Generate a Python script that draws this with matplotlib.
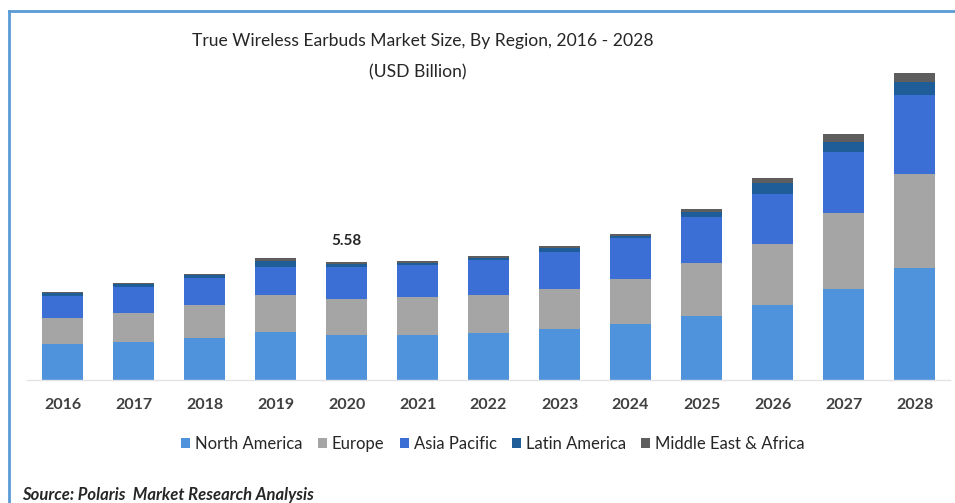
import numpy as np
import matplotlib

matplotlib.use("Agg")
import matplotlib.pyplot as plt
from matplotlib.patches import Patch
from matplotlib.lines import Line2D

# ── data (USD billion) ───────────────────────────────────────────────────────
years = ["2016", "2017", "2018", "2019", "2020", "2021", "2022",
         "2023", "2024", "2025", "2026", "2027", "2028"]
north_america = [1.69, 1.82, 1.98, 2.29, 2.13, 2.13, 2.24, 2.40, 2.65, 3.03, 3.55, 4.30, 5.29]
europe = [1.26, 1.37, 1.58, 1.74, 1.69, 1.82, 1.79, 1.90, 2.13, 2.53, 2.92, 3.63, 4.47]
asia_pacific = [1.03, 1.23, 1.27, 1.34, 1.55, 1.50, 1.64, 1.78, 1.93, 2.18, 2.37, 2.89, 3.74]
latin_america = [0.13, 0.13, 0.13, 0.25, 0.13, 0.12, 0.12, 0.17, 0.11, 0.22, 0.50, 0.47, 0.63]
mea = [0.08, 0.07, 0.08, 0.15, 0.08, 0.07, 0.08, 0.10, 0.09, 0.14, 0.25, 0.36, 0.43]
series_names = ["North America", "Europe", "Asia Pacific", "Latin America",
                "Middle East & Africa"]
annot_year, annot_text = "2020", "5.58"

COLORS = ["#4f93dc", "#a5a5a5", "#3b6fd6", "#1f5d99", "#5e5e5e"]
TXT = "#262626"
BORDER = "#5b9bd5"
FONT = ["Lato", "DejaVu Sans"]

plt.rcParams["font.family"] = FONT

fig = plt.figure(figsize=(9.55, 5.03), dpi=100)
fig.patch.set_facecolor("white")

W, H = 955, 503
ax_l, ax_r = 27, 950
ax_top, ax_bot = 60, 380
ax = fig.add_axes([ax_l / W, 1 - ax_bot / H, (ax_r - ax_l) / W, (ax_bot - ax_top) / H])

x = np.arange(len(years))
series = [north_america, europe, asia_pacific, latin_america, mea]
bottom = np.zeros(len(years))
for vals, col in zip(series, COLORS):
    ax.bar(x, vals, width=0.585, bottom=bottom, color=col, edgecolor="none", zorder=2)
    bottom = bottom + np.array(vals)

ax.set_xlim(-0.5, 12.5)
ax.set_ylim(0, (ax_bot - ax_top) / 21.09)
ax.set_yticks([])
for s in ("top", "right", "left"):
    ax.spines[s].set_visible(False)
ax.spines["bottom"].set_color("#e3e3e3")
ax.spines["bottom"].set_linewidth(1.0)
ax.set_xticks(x)
ax.set_xticklabels(years, fontsize=11.5, fontweight="bold", color="#404040")
ax.tick_params(axis="x", length=0, pad=13)

# value label above the 2020 bar
i = years.index(annot_year)
ax.annotate(annot_text, (x[i], bottom[i]), xytext=(0, 10), textcoords="offset points",
            ha="center", va="bottom", fontsize=11, fontweight="bold", color=TXT)

# titles
fig.text(423 / W, 1 - 41 / H, "True Wireless Earbuds Market Size, By Region, 2016 - 2028",
         ha="center", va="center", fontsize=12.6, color=TXT)
fig.text(418 / W, 1 - 72 / H, "(USD Billion)", ha="center", va="center",
         fontsize=12.6, color=TXT)

# legend
handles = [Patch(facecolor=c, edgecolor="none") for c in COLORS]
fig.legend(handles, series_names, loc="center", bbox_to_anchor=(493 / W, 1 - 444 / H),
           ncol=5, frameon=False, fontsize=12, handlelength=0.55, handleheight=0.55,
           handletextpad=0.3, columnspacing=0.9, labelcolor=TXT)

# source note
fig.text(22 / W, 1 - 495 / H, "Source: Polaris  Market Research Analysis",
         ha="left", va="center", fontsize=12, fontweight="bold", style="italic",
         color=TXT)

# blue frame (left and top edges)
fig.add_artist(Line2D([9 / W, 9 / W], [0, 1 - 11 / H], color=BORDER, lw=2,
                      transform=fig.transFigure))
fig.add_artist(Line2D([9 / W, 1], [1 - 11 / H, 1 - 11 / H], color=BORDER, lw=2,
                      transform=fig.transFigure))

fig.savefig("out.png", dpi=100, facecolor="white")
